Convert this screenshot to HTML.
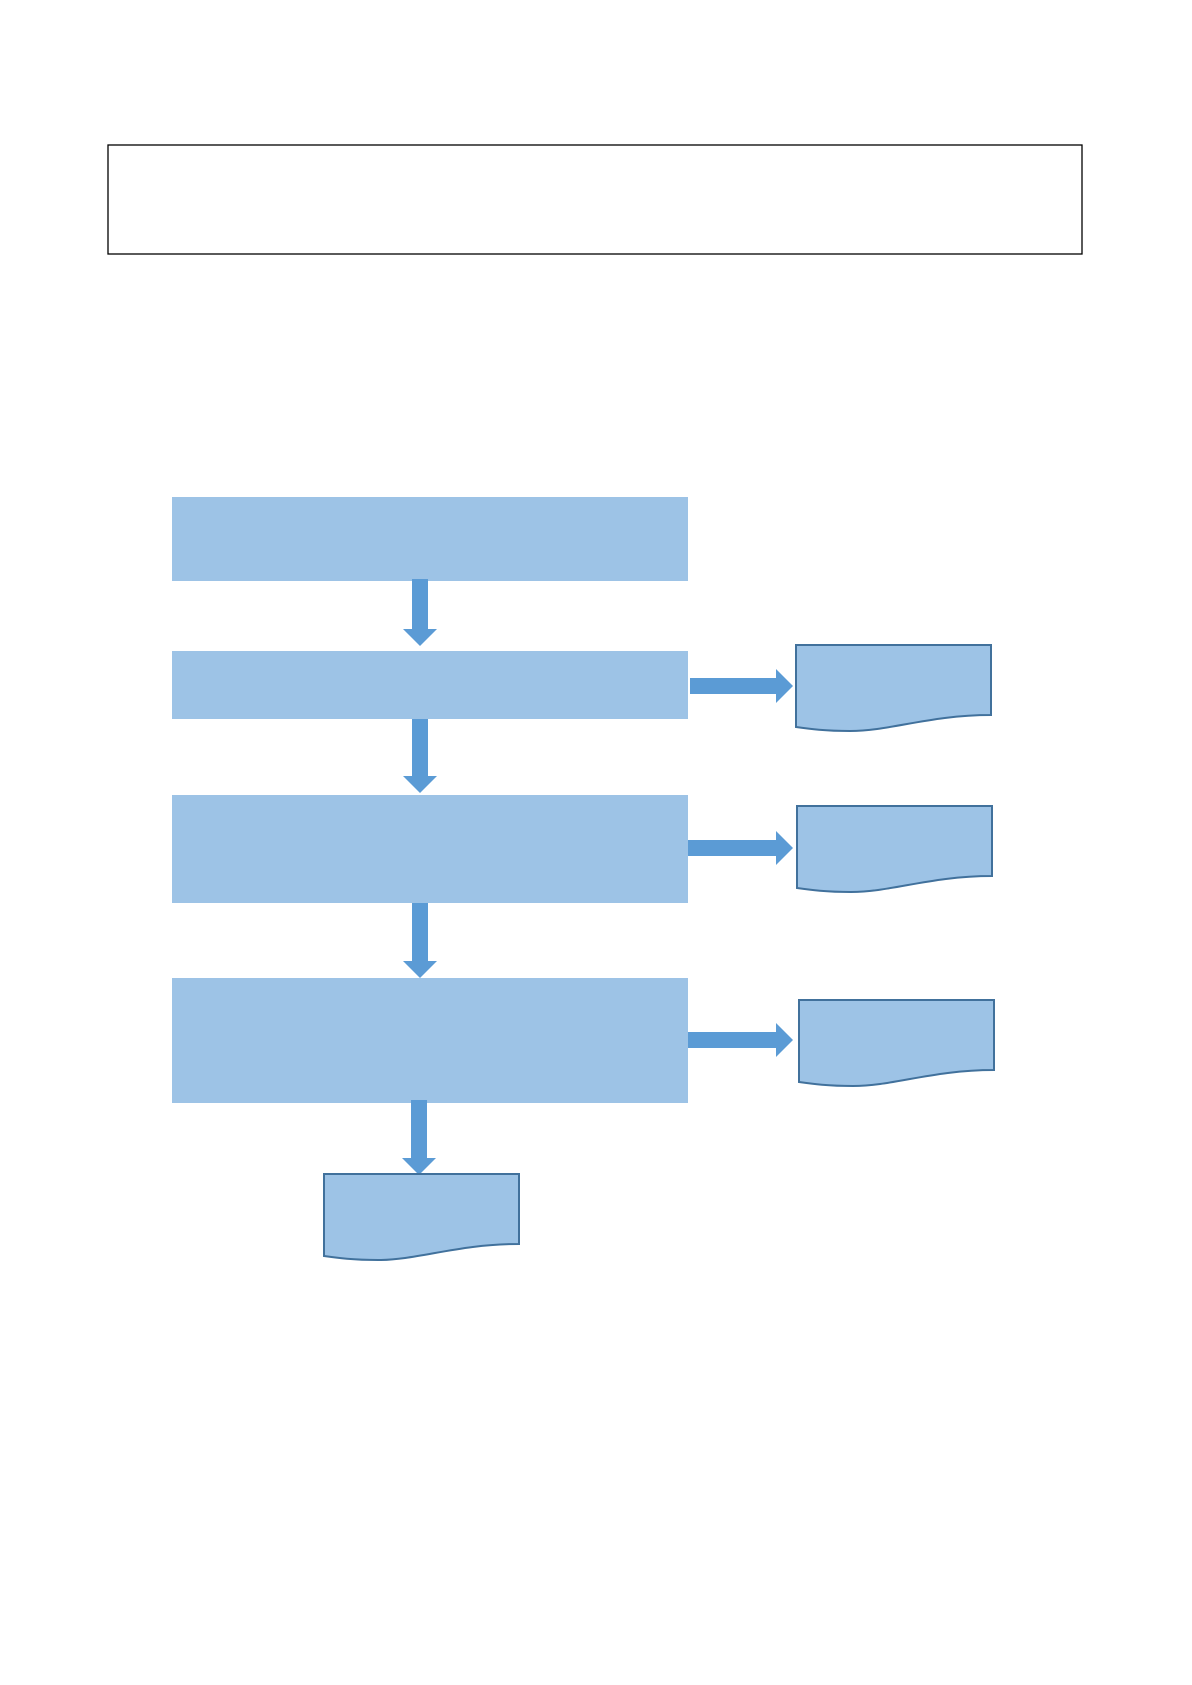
<!DOCTYPE html>
<html><head><meta charset="utf-8"><style>html,body{margin:0;padding:0;background:#fff}svg{display:block}</style></head>
<body>
<svg width="1192" height="1685" viewBox="0 0 1192 1685" xmlns="http://www.w3.org/2000/svg">
<rect x="108" y="145" width="974" height="109" fill="none" stroke="#000" stroke-width="1.3"/>
<g fill="#9DC3E6">
<rect x="172" y="497" width="516" height="84"/>
<rect x="172" y="651" width="516" height="68"/>
<rect x="172" y="795" width="516" height="108"/>
<rect x="172" y="978" width="516" height="125"/>
</g>
<g fill="#5B9BD5">
<polygon points="412,579 428,579 428,629 437,629 420,646 403,629 412,629"/>
<polygon points="412,719 428,719 428,776 437,776 420,793 403,776 412,776"/>
<polygon points="412,903 428,903 428,961 437,961 420,978 403,961 412,961"/>
<polygon points="411,1100 427,1100 427,1158 436,1158 419,1175 402,1158 411,1158"/>
<polygon points="690,678 776,678 776,669 793,686 776,703 776,694 690,694"/>
<polygon points="688,840 776,840 776,831 793,848 776,865 776,856 688,856"/>
<polygon points="688,1032 776,1032 776,1023 793,1040 776,1057 776,1048 688,1048"/>
</g>
<g fill="#9DC3E6" stroke="#41719C" stroke-width="2">
<path d="M796,645 H991 V715 C930,715 890,731 850,731 C825,731 810,729 796,727 Z"/>
<path d="M797,806 H992 V876 C931,876 891,892 851,892 C826,892 811,890 797,888 Z"/>
<path d="M799,1000 H994 V1070 C933,1070 893,1086 853,1086 C828,1086 813,1084 799,1082 Z"/>
<path d="M324,1174 H519 V1244 C458,1244 418,1260 378,1260 C353,1260 338,1258 324,1256 Z"/>
</g>
</svg>
</body></html>
